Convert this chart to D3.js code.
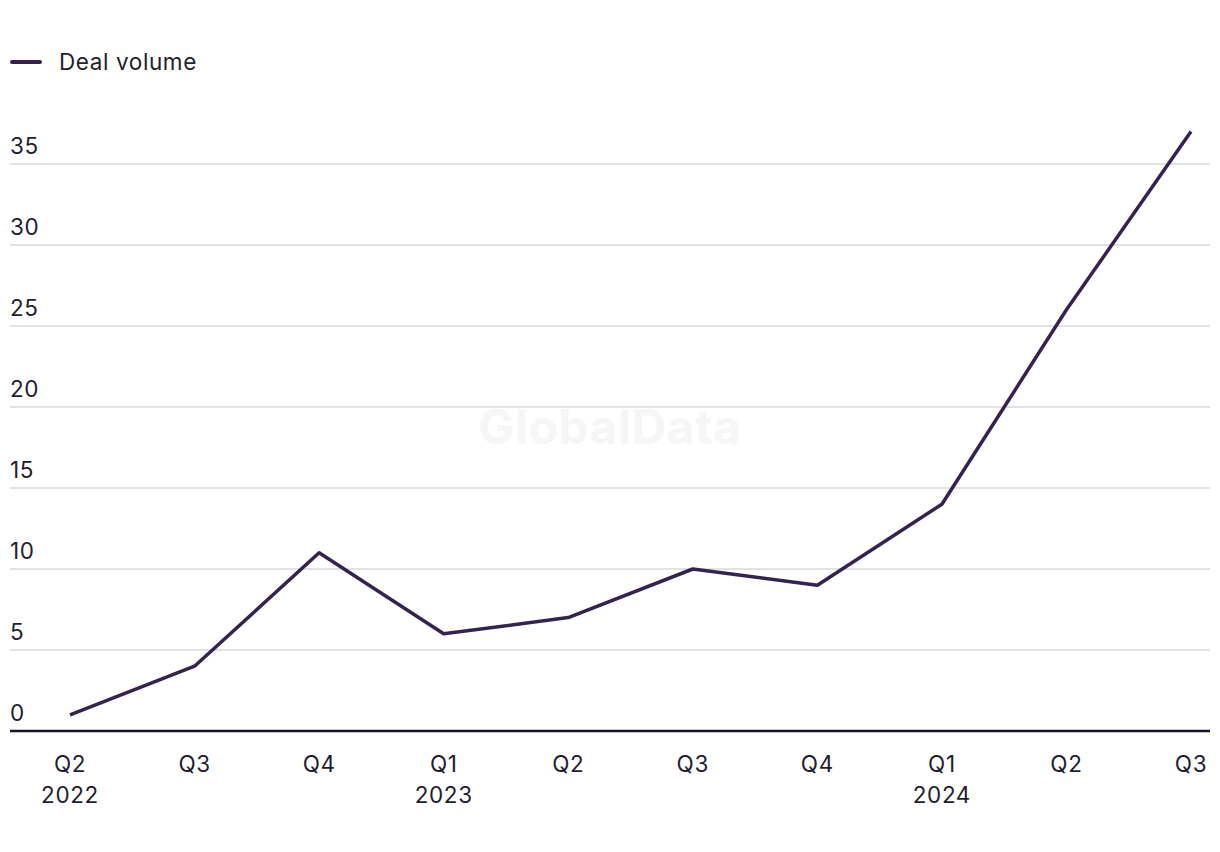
<!DOCTYPE html>
<html><head><meta charset="utf-8">
<script src="https://cdn.jsdelivr.net/npm/d3@7"></script>
<style>body{margin:0;background:#fff;} svg{display:block;font-family:Inter,"Noto Sans",sans-serif;}</style>
</head><body><svg id="c" width="1220" height="852"></svg>
<script>
const quarters = ["Q2","Q3","Q4","Q1","Q2","Q3","Q4","Q1","Q2","Q3"];
const years = ["2022","","","2023","","","","2024","",""];
const dealVolume = [1,4,11,6,7,10,9,14,26,37];
const yTicks = [0,5,10,15,20,25,30,35];
const seriesName = "Deal volume";

const svg = d3.select("#c");
const color = "#35234f";
const txt = "#1f1d2e";
const fs = 22.5, ls = "0.6px";
const x = d3.scalePoint().domain(d3.range(quarters.length)).range([70,1191]);
const y = d3.scaleLinear().domain([0,35]).range([731,164]);

// watermark
svg.append("text").attr("x",610).attr("y",444).attr("text-anchor","middle")
  .attr("font-size",48).attr("font-weight",700).attr("letter-spacing","0.5px").attr("fill","#f6f6f6").text("GlobalData");

// gridlines
const g = svg.append("g");
g.selectAll("line.grid").data(yTicks.filter(d=>d>0)).join("line")
  .attr("x1",10).attr("x2",1210).attr("y1",d=>y(d)).attr("y2",d=>y(d))
  .attr("stroke","#d9d9d9").attr("stroke-width",1.5);
g.selectAll("text.yl").data(yTicks).join("text")
  .attr("x",10).attr("y",d=>y(d)-10).attr("font-size",fs).attr("letter-spacing",ls).attr("fill",txt).text(d=>d);
// zero line
svg.append("line").attr("x1",10).attr("x2",1210).attr("y1",y(0)).attr("y2",y(0))
  .attr("stroke","#17142a").attr("stroke-width",2.5);

// x labels
const xl = svg.append("g");
xl.selectAll("text.q").data(quarters).join("text")
  .attr("x",(d,i)=>x(i)).attr("y",772).attr("text-anchor","middle").attr("font-size",fs).attr("letter-spacing",ls).attr("fill",txt).text(d=>d);
xl.selectAll("text.yr").data(years).join("text")
  .attr("x",(d,i)=>x(i)).attr("y",803).attr("text-anchor","middle").attr("font-size",fs).attr("letter-spacing",ls).attr("fill",txt).text(d=>d);

// line
svg.append("path").datum(dealVolume)
  .attr("d",d3.line().x((d,i)=>x(i)).y(d=>y(d)))
  .attr("fill","none").attr("stroke",color).attr("stroke-width",3.5).attr("stroke-linejoin","round");

// legend
svg.append("line").attr("x1",12).attr("x2",40).attr("y1",62).attr("y2",62)
  .attr("stroke",color).attr("stroke-width",4).attr("stroke-linecap","round");
svg.append("text").attr("x",59).attr("y",70).attr("font-size",fs).attr("letter-spacing",ls).attr("fill",txt).text(seriesName);
</script></body></html>
